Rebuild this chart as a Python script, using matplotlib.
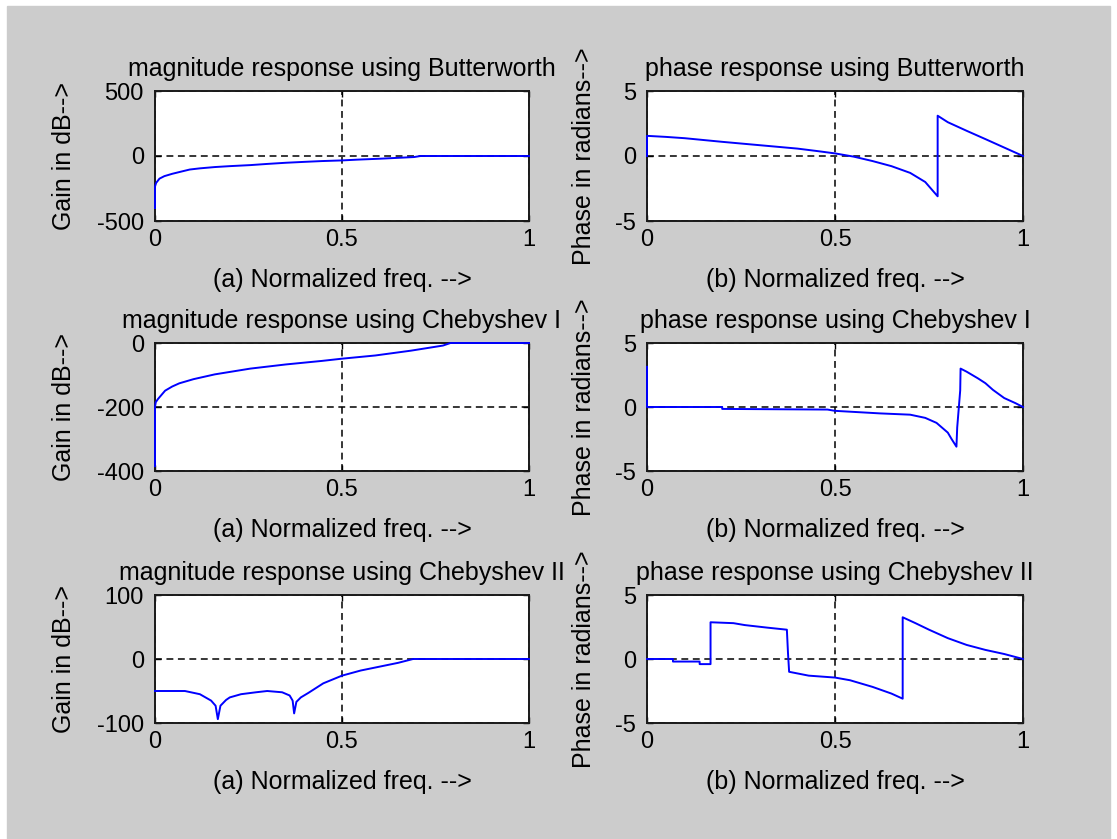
import matplotlib
matplotlib.use("Agg")
import matplotlib.pyplot as plt
from matplotlib.patches import Rectangle

plt.rcParams['font.family'] = ['Liberation Sans', 'DejaVu Sans']
plt.rcParams['axes.unicode_minus'] = False

# values (normalized frequency vs response)
bw_mag_f = [0, 0, 0.003, 0.012, 0.025, 0.046, 0.07, 0.093, 0.12, 0.16, 0.2, 0.255,
            0.3, 0.35, 0.4, 0.446, 0.5, 0.541, 0.6, 0.636, 0.693, 0.71, 1.0]
bw_mag_db = [-400, -235, -207, -174, -155, -137, -120, -104, -95, -85, -78, -70,
             -61, -52, -45, -39, -34, -28, -21, -16, -8, 0, 0]

bw_ph_f = [0, 0, 0.05, 0.1, 0.2, 0.3, 0.4, 0.45, 0.5, 0.55, 0.6, 0.65, 0.7, 0.74,
           0.773, 0.773, 0.8, 0.85, 0.9, 0.95, 1.0]
bw_ph_rad = [0, 1.55, 1.47, 1.37, 1.09, 0.83, 0.57, 0.39, 0.2, -0.05, -0.39, -0.78,
             -1.3, -2.0, -3.1, 3.1, 2.6, 1.94, 1.3, 0.65, 0]

c1_mag_f = [0, 0, 0.002, 0.008, 0.027, 0.046, 0.065, 0.103, 0.16, 0.255, 0.35,
            0.446, 0.5, 0.589, 0.684, 0.77, 0.79, 1.0]
c1_mag_db = [-385, -200, -185, -175, -149, -136, -126, -113, -98, -80, -67,
             -56, -49, -39, -24, -8, 0, 0]

c1_ph_f = [0, 0, 0.2, 0.2, 0.48, 0.5, 0.62, 0.7, 0.74, 0.77, 0.8, 0.81, 0.823,
           0.825, 0.833, 0.834, 0.85, 0.88, 0.9, 0.92, 0.95, 0.98, 1.0]
c1_ph_rad = [3.14, 0, 0, -0.15, -0.2, -0.3, -0.5, -0.6, -0.85, -1.24, -2.0, -2.5, -3.1,
             -1.6, 1.3, 3.0, 2.76, 2.24, 1.86, 1.34, 0.7, 0.3, 0]

c2_mag_f = [0, 0.08, 0.12, 0.15, 0.162, 0.168, 0.175, 0.19, 0.2, 0.23, 0.27, 0.3,
            0.34, 0.36, 0.368, 0.372, 0.378, 0.39, 0.41, 0.45, 0.5, 0.55, 0.6,
            0.65, 0.69, 1.0]
c2_mag_db = [-50, -50, -55, -65, -73, -94, -73, -64, -60, -55, -52, -50,
             -52, -57, -65, -85, -67, -60, -53, -38, -26, -18, -12,
             -6, 0, 0]

c2_ph_f = [0, 0.069, 0.069, 0.14, 0.14, 0.169, 0.169, 0.23, 0.26, 0.32, 0.372,
           0.375, 0.378, 0.43, 0.5, 0.54, 0.6, 0.65, 0.68, 0.68, 0.714, 0.75,
           0.8, 0.85, 0.9, 0.95, 1.0]
c2_ph_rad = [0, 0, -0.2, -0.2, -0.4, -0.4, 2.87, 2.8, 2.65, 2.45, 2.29,
             0.45, -1.0, -1.3, -1.45, -1.66, -2.18, -2.7, -3.1, 3.26, 2.8, 2.29,
             1.63, 1.1, 0.71, 0.39, 0]

filters = ['Butterworth', 'Chebyshev I', 'Chebyshev II']
mag_data = [(bw_mag_f, bw_mag_db), (c1_mag_f, c1_mag_db), (c2_mag_f, c2_mag_db)]
ph_data = [(bw_ph_f, bw_ph_rad), (c1_ph_f, c1_ph_rad), (c2_ph_f, c2_ph_rad)]
mag_yticks = [[-500, 0, 500], [-400, -200, 0], [-100, 0, 100]]
ph_yticks = [-5, 0, 5]
xticks = [0, 0.5, 1]
xticklabels = ['0', '0.5', '1']

W, H = 1117, 839
fig = plt.figure(figsize=(W / 100, H / 100), dpi=100, facecolor='white')
fig.patches.append(Rectangle((7 / W, 0), 1 - 14 / W, 1 - 6 / H,
                             transform=fig.transFigure, color='#cccccc', zorder=-10))

cols = [(155, 529), (647, 1023)]
rows = [(91, 221), (343, 471), (595, 723)]
FS = 18


def make_ax(col, row):
    x0, x1 = cols[col]
    y0, y1 = rows[row]
    return fig.add_axes([x0 / W, 1 - y1 / H, (x1 - x0) / W, (y1 - y0) / H])


def style(ax, yticks, title, xlabel, ylabel, ylab_x):
    ax.set_xlim(0, 1)
    ax.set_ylim(yticks[0], yticks[-1])
    ax.set_xticks(xticks)
    ax.set_xticklabels(xticklabels)
    ax.set_yticks(yticks)
    ax.grid(True, color='black', linestyle=(0, (4.5, 3)), linewidth=1.1)
    ax.tick_params(direction='in', length=4, width=1, labelsize=17,
                   top=True, right=True)
    ax.tick_params(axis='x', pad=5.5)
    ax.tick_params(axis='y', pad=8)
    for sp in ax.spines.values():
        sp.set_linewidth(1.4)
        sp.set_color('#1a1a1a')
    h = ax.get_position().height * H
    ax.set_title(title, fontsize=FS, pad=11)
    ax.set_xlabel(xlabel, fontsize=FS, va='baseline')
    ax.xaxis.set_label_coords(0.5, -66 / h)
    ax.set_ylabel(ylabel, fontsize=FS, va='center')
    ax.yaxis.set_label_coords(ylab_x, 0.5)


for i, name in enumerate(filters):
    ax = make_ax(0, i)
    f, g = mag_data[i]
    ax.plot(f, g, color='#0000ff', linewidth=1.4, zorder=3, clip_on=False)
    style(ax, mag_yticks[i], 'magnitude response using ' + name,
          '(a) Normalized freq. -->', 'Gain in dB-->', -0.243)

    ax = make_ax(1, i)
    f, p = ph_data[i]
    ax.plot(f, p, color='#0000ff', linewidth=1.4, zorder=3, clip_on=False)
    style(ax, ph_yticks, 'phase response using ' + name,
          '(b) Normalized freq. -->', 'Phase in radians-->', -0.168)

plt.savefig('out.png', dpi=100, facecolor=fig.get_facecolor())
